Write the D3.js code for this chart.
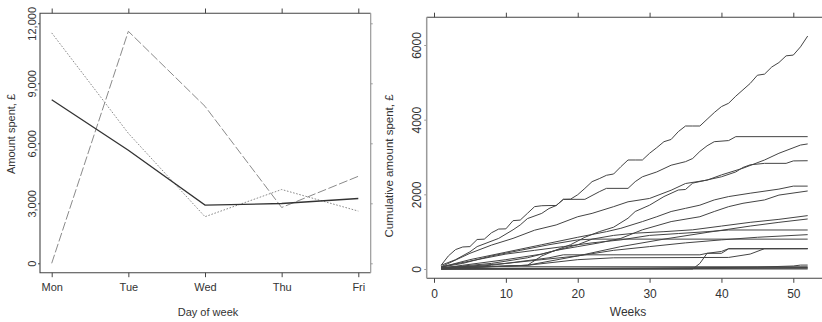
<!DOCTYPE html>
<html>
<head>
<meta charset="utf-8">
<script src="https://cdn.jsdelivr.net/npm/d3@7"></script>
<style>
body { margin: 0; background: #fff; }
svg { display: block; font-family: "Liberation Sans", Arial, sans-serif; }
</style>
</head>
<body>
<script>
// left panel: spend by day of week
var days = ['Mon', 'Tue', 'Wed', 'Thu', 'Fri'];
var solidSpend = [8180, 5650, 2910, 2990, 3240];
var dottedSpend = [11520, 6500, 2330, 3690, 2610];
var dashedSpend = [0, 11600, 7850, 2790, 4350];
var amountTicks = [0, 3000, 6000, 9000, 12000];

// right panel: cumulative spend per customer, by week
var weekTicks = [0, 10, 20, 30, 40, 50];
var cumTicks = [0, 2000, 4000, 6000];
var weeks = d3.range(1, 53);
var topSpender = [100, 350, 520, 590, 600, 790, 800, 970, 1070, 1075, 1295, 1310, 1490,
	1670, 1695, 1700, 1700, 1865, 1870, 1990, 2160, 2340, 2420, 2510, 2545, 2740,
	2920, 2920, 2920, 3100, 3250, 3410, 3470, 3680, 3830, 3830, 3830, 4010, 4190,
	4350, 4440, 4630, 4800, 4970, 5190, 5220, 5410, 5530, 5710, 5730, 5950, 6240];
// other customers, as [week, cumulative amount]
var custB = [[1,100],[3,250],[5,460],[6,600],[9,820],[11,1050],[12,1180],[13,1350],[15,1490],[16,1620],[17,1700],[18,1866],[21,1866],[23,2070],[24,2160],[27,2160],[28,2340],[29,2470],[31,2600],[33,2780],[35,2875],[36,2960],[37,3150],[38,3300],[39,3410],[41,3440],[42,3545],[52,3545]];
var custC = [[1,60],[5,420],[8,640],[11,820],[14,1040],[17,1180],[20,1400],[22,1490],[25,1670],[27,1800],[30,1890],[33,2110],[35,2290],[38,2380],[40,2520],[43,2700],[46,2920],[48,3100],[51,3320],[52,3350]];
var custD = [[1,20],[13,100],[15,350],[17,510],[19,650],[21,850],[23,1000],[25,1120],[27,1360],[28,1540],[30,1710],[32,1940],[34,2116],[35,2130],[36,2300],[40,2470],[42,2600],[43,2720],[44,2790],[46,2830],[49,2830],[50,2895],[52,2900]];
var custE = [[1,50],[5,250],[10,450],[15,650],[20,850],[24,1000],[26,1090],[29,1270],[31,1400],[33,1540],[35,1625],[37,1710],[39,1850],[41,1940],[44,2030],[48,2140],[50,2220],[52,2220]];
var custF = [[1,30],[8,150],[13,300],[17,500],[20,600],[23,700],[26,820],[29,1050],[33,1270],[37,1400],[39,1540],[41,1670],[43,1760],[46,1850],[48,1980],[52,2090]];
var custG = [[1,20],[4,100],[10,250],[15,400],[20,650],[22,800],[25,900],[28,960],[32,1000],[36,1050],[40,1150],[44,1250],[48,1330],[52,1430]];
var custH = [[1,0],[13,100],[20,350],[26,600],[32,800],[38,980],[44,1150],[48,1250],[52,1340]];
var custI = [[1,60],[6,250],[10,400],[14,500],[18,600],[22,700],[26,780],[30,900],[34,950],[38,1000],[41,1045],[52,1045]];
var custJ = [[1,20],[10,150],[15,250],[20,350],[25,500],[30,600],[35,700],[40,780],[45,850],[52,920]];
var custK = [[1,50],[4,150],[8,350],[12,500],[16,650],[20,780],[22,800],[52,800]];
var custL1 = [[1,0],[36,0],[37,150],[38,420],[40,420],[41,540],[52,545]];
var custL2 = [[1,20],[13,100],[20,250],[25,300],[41,310],[44,400],[46,545],[52,545]];
var custL3 = [[1,20],[8,100],[12,200],[16,300],[18,380],[37,380],[38,420],[40,470],[41,545],[52,545]];
var custM = [[1,0],[30,20],[45,50],[50,80],[51,105],[52,105]];
var custN1 = [[1,40],[3,60],[52,60]];
var custN2 = [[1,0],[52,20]];
var custN3 = [[1,10],[52,40]];
var custN4 = [[1,0],[52,0]];

var customers = [custB, custC, custD, custE, custF, custG, custH, custI, custJ, custK,
	custL1, custL2, custL3, custM, custN1, custN2, custN3, custN4];

var svg = d3.select('body').append('svg')
	.attr('width', 822)
	.attr('height', 322);

var ink = '#333';
var light = '#9a9a9a';

function styleAxis(g, col) {
	g.select('.domain').remove();
	g.selectAll('line').attr('stroke', col || '#444');
	g.selectAll('text').attr('fill', ink);
}

function rotLabels(g, off, size) {
	g.selectAll('text')
		.attr('transform', 'rotate(-90)')
		.attr('x', 0)
		.attr('y', off)
		.attr('dy', 0)
		.attr('text-anchor', 'middle')
		.attr('font-size', size);
}

// ---------- left panel ----------
var L = {x0: 40, x1: 370.7, y0: 13.3, y1: 272.7};
var xL = d3.scalePoint().domain(days).range([51.7, 358.3]);
var yL = d3.scaleLinear().domain([0, 12000]).range([263.3, 23.3]);

var left = svg.append('g');

left.append('g')
	.attr('transform', 'translate(0,' + L.y1 + ')')
	.call(d3.axisBottom(xL).tickSize(4.5))
	.call(styleAxis)
	.selectAll('text').attr('y', 18.8).attr('dy', 0).attr('font-size', 11);

left.append('g')
	.attr('transform', 'translate(0,' + L.y0 + ')')
	.call(d3.axisTop(xL).tickSize(4.8).tickFormat(''))
	.call(styleAxis);

left.append('g')
	.attr('transform', 'translate(' + L.x0 + ',0)')
	.call(d3.axisLeft(yL).tickValues(amountTicks).tickSize(2).tickFormat(d3.format(',')))
	.call(styleAxis)
	.call(rotLabels, -4.5, 11);

left.append('g')
	.attr('transform', 'translate(' + L.x1 + ',0)')
	.call(d3.axisRight(yL).tickValues(amountTicks).tickSize(2).tickFormat(''))
	.call(styleAxis, light);

// frame
left.append('path')
	.attr('d', 'M' + L.x1 + ',' + L.y0 + 'H' + L.x0 + 'V' + L.y1 + 'H' + L.x1)
	.attr('fill', 'none').attr('stroke', '#444').attr('stroke-width', 1.1);
left.append('line')
	.attr('x1', L.x1).attr('x2', L.x1).attr('y1', L.y0).attr('y2', L.y1)
	.attr('stroke', light).attr('stroke-width', 1.2);

var dayLine = d3.line()
	.x(function(d, i) { return xL(days[i]); })
	.y(function(d) { return yL(d); });

left.append('path').datum(dashedSpend)
	.attr('d', dayLine).attr('fill', 'none')
	.attr('stroke', '#8a8a8a').attr('stroke-width', 1)
	.attr('stroke-dasharray', '9,2.5');
left.append('path').datum(dottedSpend)
	.attr('d', dayLine).attr('fill', 'none')
	.attr('stroke', '#8a8a8a').attr('stroke-width', 1)
	.attr('stroke-dasharray', '1.6,1.6');
left.append('path').datum(solidSpend)
	.attr('d', dayLine).attr('fill', 'none')
	.attr('stroke', '#333').attr('stroke-width', 1.3);

left.append('text')
	.attr('x', 208).attr('y', 316)
	.attr('text-anchor', 'middle').attr('font-size', 11).attr('fill', ink)
	.text('Day of week');
left.append('text')
	.attr('transform', 'translate(15,134) rotate(-90)')
	.attr('text-anchor', 'middle').attr('font-size', 11).attr('fill', ink)
	.text('Amount spent, £');

// ---------- right panel ----------
var R = {x0: 426.7, x1: 822, y0: 17.3, y1: 278.3};
var xR = d3.scaleLinear().domain([0, 50]).range([434, 793.3]);
var yR = d3.scaleLinear().domain([0, 6000]).range([269, 45]);

var right = svg.append('g');

right.append('g')
	.attr('transform', 'translate(0,' + R.y1 + ')')
	.call(d3.axisBottom(xR).tickValues(weekTicks).tickSize(4.5))
	.call(styleAxis)
	.selectAll('text').attr('y', 19.7).attr('dy', 0).attr('font-size', 12);

right.append('g')
	.attr('transform', 'translate(0,' + R.y0 + ')')
	.call(d3.axisTop(xR).tickValues(weekTicks).tickSize(4.6).tickFormat(''))
	.call(styleAxis);

right.append('g')
	.attr('transform', 'translate(' + R.x0 + ',0)')
	.call(d3.axisLeft(yR).tickValues(cumTicks).tickSize(2.5).tickFormat(d3.format('d')))
	.call(styleAxis, light)
	.call(rotLabels, -5.7, 12);

right.append('path')
	.attr('d', 'M' + R.x1 + ',' + R.y0 + 'H' + R.x0 + 'M' + R.x0 + ',' + R.y1 + 'H' + R.x1)
	.attr('fill', 'none').attr('stroke', '#444').attr('stroke-width', 1.1);
right.append('line')
	.attr('x1', R.x0).attr('x2', R.x0).attr('y1', R.y0).attr('y2', R.y1)
	.attr('stroke', light).attr('stroke-width', 1.5);

var cumLine = d3.line()
	.x(function(d) { return xR(d[0]); })
	.y(function(d) { return yR(d[1]); });

right.selectAll('path.cust')
	.data(customers)
	.enter()
	.append('path')
	.attr('class', 'cust')
	.attr('d', cumLine)
	.attr('fill', 'none')
	.attr('stroke', '#444')
	.attr('stroke-width', 1);

right.append('path')
	.datum(topSpender.map(function(v, i) { return [weeks[i], v]; }))
	.attr('d', cumLine)
	.attr('fill', 'none')
	.attr('stroke', '#444')
	.attr('stroke-width', 1);

right.append('text')
	.attr('x', 628).attr('y', 316)
	.attr('text-anchor', 'middle').attr('font-size', 12).attr('fill', ink)
	.text('Weeks');
right.append('text')
	.attr('transform', 'translate(393,166) rotate(-90)')
	.attr('text-anchor', 'middle').attr('font-size', 11.5).attr('fill', ink)
	.text('Cumulative amount spent, £');
</script>
</body>
</html>
